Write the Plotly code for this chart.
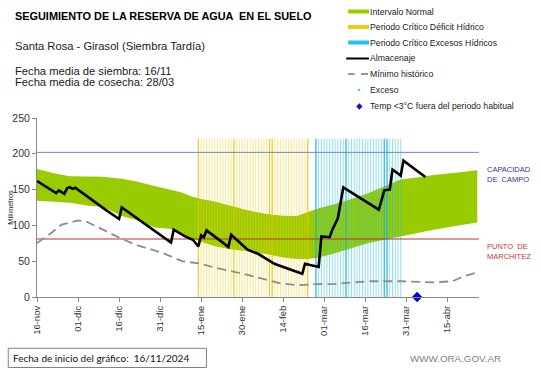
import plotly.graph_objects as go
import pandas as pd

# ---------------- data ----------------
BANDA_FECHAS = ["2024-11-16", "2024-11-23", "2024-11-28", "2024-12-05", "2024-12-10", "2024-12-17",
                "2024-12-22", "2024-12-29", "2025-01-04", "2025-01-08", "2025-01-11", "2025-01-15",
                "2025-01-20", "2025-01-25", "2025-02-01", "2025-02-08", "2025-02-14", "2025-02-19",
                "2025-02-23", "2025-02-27", "2025-03-04", "2025-03-11", "2025-03-17", "2025-03-23",
                "2025-03-29", "2025-04-04", "2025-04-10", "2025-04-18", "2025-04-26"]
BANDA_SUPERIOR = [178.6, 172, 168.5, 168.5, 168, 165, 161.5, 155, 150, 146, 141, 137,
                  133.5, 128, 121, 116, 113.5, 113, 119, 124, 129, 137, 145, 154,
                  164, 167, 170.5, 173.5, 177]
BANDA_INFERIOR = [134.5, 133, 131.5, 127.5, 126, 113, 108, 97, 95, 88, 83, 77,
                  71, 67, 64, 60, 55, 53, 53, 55, 60, 68, 75, 80,
                  85, 89, 94, 99, 104]

ALM_FECHAS = ["2024-11-16", "2024-11-23", "2024-11-24", "2024-11-26", "2024-11-27", "2024-11-28",
              "2024-11-29", "2024-11-30", "2024-12-11", "2024-12-16", "2024-12-17", "2025-01-04",
              "2025-01-05", "2025-01-09", "2025-01-12", "2025-01-14", "2025-01-15", "2025-01-16",
              "2025-01-17", "2025-01-25", "2025-01-26", "2025-02-01", "2025-02-05", "2025-02-11",
              "2025-02-21", "2025-02-22", "2025-02-27", "2025-02-28", "2025-03-03", "2025-03-04",
              "2025-03-06", "2025-03-08", "2025-03-21", "2025-03-23", "2025-03-25", "2025-03-26",
              "2025-03-29", "2025-03-30", "2025-04-07"]
ALM_VALORES = [162, 145, 149, 144, 152, 153.5,
               151, 152.5, 122, 109, 125, 76,
               94, 85, 80, 70.5, 86, 83.5,
               93, 70, 87, 66, 60, 46,
               32.5, 46.5, 42, 84.7, 83.5, 94,
               110, 153, 122, 149, 150, 178,
               169.5, 190.5, 167.5]

MIN_FECHAS = ["2024-11-16", "2024-11-20", "2024-11-25", "2024-12-01", "2024-12-04", "2024-12-10",
              "2024-12-16", "2024-12-22", "2025-01-01", "2025-01-08", "2025-01-15", "2025-01-20",
              "2025-02-01", "2025-02-13", "2025-02-19", "2025-02-26", "2025-03-04", "2025-03-17",
              "2025-03-29", "2025-04-10", "2025-04-17", "2025-04-21", "2025-04-26"]
MIN_VALORES = [75.4, 86, 101, 107, 105.5, 94,
               83, 73, 61.5, 50, 46.5, 41,
               31, 19, 16.5, 18, 18, 22,
               22, 20.5, 22, 29, 34.5]

CAPACIDAD_CAMPO = 202
PUNTO_MARCHITEZ = 81

DEFICIT_INICIO, DEFICIT_FIN = "2025-01-14", "2025-02-23"
EXCESO_INICIO, EXCESO_FIN = "2025-02-26", "2025-03-29"
PERIODO_ALTURA = 221
DEFICIT_INTENSO = ["2025-01-14", "2025-01-27", "2025-02-09", "2025-02-10", "2025-02-23"]
EXCESO_INTENSO = ["2025-02-26", "2025-03-09", "2025-03-23", "2025-03-24"]

TEMP_FECHAS = ["2025-04-04"]
TEMP_VALORES = [0]

TICK_FECHAS = ["2024-11-16", "2024-12-01", "2024-12-16", "2024-12-31", "2025-01-15", "2025-01-30",
               "2025-02-14", "2025-03-01", "2025-03-16", "2025-03-31", "2025-04-15"]
TICK_TEXTOS = ["16-nov", "01-dic", "16-dic", "31-dic", "15-ene", "30-ene",
               "14-feb", "01-mar", "16-mar", "31-mar", "15-abr"]
X_INICIO, X_FIN = "2024-11-16", "2025-04-26 15:00"
Y_TICKS = [0, 50, 100, 150, 200, 250]

# ---------------- layout geometry ----------------
W, H = 541, 368
ML, MR, MT, MB = 33, 62, 118, 71
FONT = "Liberation Sans, Arial, sans-serif"


def px(x):
    return (x - ML) / (W - ML - MR)


def py(y):
    return (H - MB - y) / (H - MT - MB)


def franjas(fechas):
    xs, ys = [], []
    for d in fechas:
        xs += [d, d, None]
        ys += [0, PERIODO_ALTURA, None]
    return xs, ys


fig = go.Figure()

# Intervalo normal (band)
fig.add_trace(go.Scatter(x=BANDA_FECHAS, y=BANDA_INFERIOR, mode="lines",
                         line=dict(width=0, color="#99CC00"), hoverinfo="skip"))
fig.add_trace(go.Scatter(x=BANDA_FECHAS, y=BANDA_SUPERIOR, mode="lines", fill="tonexty",
                         fillcolor="#99CC00", line=dict(width=0, color="#99CC00")))

# Periodo critico stripes
dx, dy = franjas(list(pd.date_range(DEFICIT_INICIO, DEFICIT_FIN, freq="D")))
fig.add_trace(go.Scatter(x=dx, y=dy, mode="lines",
                         line=dict(width=1, color="rgba(245,208,30,0.5)"), hoverinfo="skip"))
dx, dy = franjas(DEFICIT_INTENSO)
fig.add_trace(go.Scatter(x=dx, y=dy, mode="lines",
                         line=dict(width=1.3, color="rgba(235,190,0,0.65)"), hoverinfo="skip"))
ex, ey = franjas(list(pd.date_range(EXCESO_INICIO, EXCESO_FIN, freq="D")))
fig.add_trace(go.Scatter(x=ex, y=ey, mode="lines",
                         line=dict(width=1, color="rgba(40,190,225,0.5)"), hoverinfo="skip"))
ex, ey = franjas(EXCESO_INTENSO)
fig.add_trace(go.Scatter(x=ex, y=ey, mode="lines",
                         line=dict(width=1.3, color="rgba(20,175,220,0.7)"), hoverinfo="skip"))

# Capacidad de campo / punto de marchitez
fig.add_trace(go.Scatter(x=[X_INICIO, X_FIN], y=[CAPACIDAD_CAMPO, CAPACIDAD_CAMPO], mode="lines",
                         line=dict(width=1, color="#6A8BC6")))
fig.add_trace(go.Scatter(x=[X_INICIO, X_FIN], y=[PUNTO_MARCHITEZ, PUNTO_MARCHITEZ], mode="lines",
                         line=dict(width=1, color="#B83232")))

# Minimo historico
fig.add_trace(go.Scatter(x=MIN_FECHAS, y=MIN_VALORES, mode="lines",
                         line=dict(width=1.8, color="#8C8C8C", dash="9px,5px")))

# Almacenaje
fig.add_trace(go.Scatter(x=ALM_FECHAS, y=ALM_VALORES, mode="lines",
                         line=dict(width=2.6, color="#000000")))

# Temp < 3 C
fig.add_trace(go.Scatter(x=TEMP_FECHAS, y=TEMP_VALORES, mode="markers", cliponaxis=False,
                         marker=dict(symbol="diamond", size=8, color="#0000CC")))

fig.update_layout(
    width=W, height=H,
    margin=dict(l=ML, r=MR, t=MT, b=MB, pad=0),
    paper_bgcolor="white", plot_bgcolor="white",
    showlegend=False,
    font=dict(family=FONT, color="#222222"),
    xaxis=dict(type="date", range=[X_INICIO, X_FIN], tickmode="array",
               tickvals=TICK_FECHAS, ticktext=TICK_TEXTOS, tickangle=-90,
               ticks="outside", ticklen=4, tickcolor="#888888",
               showline=True, linecolor="#888888", linewidth=1,
               showgrid=False, zeroline=False,
               tickfont=dict(size=9.5, color="#333333")),
    yaxis=dict(range=[0, 250], tickmode="array", tickvals=Y_TICKS,
               ticks="outside", ticklen=4, tickcolor="#888888",
               showline=True, linecolor="#888888", linewidth=1,
               showgrid=False, zeroline=False,
               tickfont=dict(size=10.5, color="#333333")),
)

ann = []


def txt(x, y, text, size, color="#000000", bold=False, anchor="left", family=FONT, angle=0):
    ann.append(dict(x=px(x), y=py(y), xref="paper", yref="paper", text=f"<b>{text}</b>" if bold else text,
                    showarrow=False, xanchor=anchor, yanchor="middle", textangle=angle,
                    font=dict(size=size, color=color, family=family), align="left"))


txt(9, 16, "SEGUIMIENTO DE LA RESERVA DE AGUA  EN EL SUELO", 10.9, bold=True)
txt(9, 46, "Santa Rosa - Girasol (Siembra Tardía)", 11.2, "#1a1a1a")
txt(9, 71.5, "Fecha media de siembra: 16/11", 11.2, "#1a1a1a")
txt(9, 81.5, "Fecha media de cosecha: 28/03", 11.2, "#1a1a1a")
txt(5.5, 207, "Milímetros", 7.5, "#222222", anchor="center", angle=-90)
txt(485, 174.5, "CAPACIDAD<br>DE  CAMPO", 7.5, "#333399")
txt(485, 251, "PUNTO  DE<br>MARCHITEZ", 7.5, "#CC3333")
txt(7, 357.5, "Fecha de inicio del gráfico:  16/11/2024", 10, "#111111", family="Lato, Liberation Sans, sans-serif")
txt(407, 358, "WWW.ORA.GOV.AR", 9.8, "#7F7F7F")

legend_items = [
    (11.5, "Intervalo Normal"),
    (27, "Periodo Crítico Déficit Hídrico"),
    (42.5, "Periodo Crítico Excesos Hídricos"),
    (58.5, "Almacenaje"),
    (74, "Mínimo histórico"),
    (90, "Exceso"),
    (106, "Temp <3°C fuera del periodo habitual"),
]
for yy, t in legend_items:
    txt(367, yy, t, 8.7, "#1a1a1a")

fig.update_layout(annotations=ann)

shapes = []


def seg(x0, x1, y, color, width, dash="solid"):
    shapes.append(dict(type="line", xref="paper", yref="paper", x0=px(x0), x1=px(x1),
                       y0=py(y), y1=py(y), line=dict(color=color, width=width, dash=dash)))


seg(347, 368, 11.5, "#99CC00", 4)
seg(347, 368, 27, "#F5C518", 4)
seg(347, 368, 42.5, "#22C0E8", 4)
seg(345, 368, 58.5, "#000000", 2)
seg(347, 353.5, 74, "#8C8C8C", 1.8)
seg(360, 367, 74, "#8C8C8C", 1.8)
# Exceso dot
shapes.append(dict(type="circle", xref="paper", yref="paper",
                   x0=px(356.8), x1=px(359.2), y0=py(88.8), y1=py(91.2),
                   fillcolor="#33CCEE", line=dict(width=0)))
# Temp diamond
cx, cy, r = 358.3, 106.5, 3.2
shapes.append(dict(type="path", xref="paper", yref="paper",
                   path=f"M {px(cx)},{py(cy - r)} L {px(cx + r)},{py(cy)} L {px(cx)},{py(cy + r)} L {px(cx - r)},{py(cy)} Z",
                   fillcolor="#1414C8", line=dict(width=0)))
# Bottom box
shapes.append(dict(type="rect", xref="paper", yref="paper",
                   x0=px(4), x1=px(204), y0=py(348.3), y1=py(367.5),
                   line=dict(color="#957A7A", width=1), fillcolor="rgba(0,0,0,0)"))

fig.update_layout(shapes=shapes)

fig.write_html("out.html", config={"displayModeBar": False},
               post_script="document.body.style.margin='0';document.body.style.padding='0';")
